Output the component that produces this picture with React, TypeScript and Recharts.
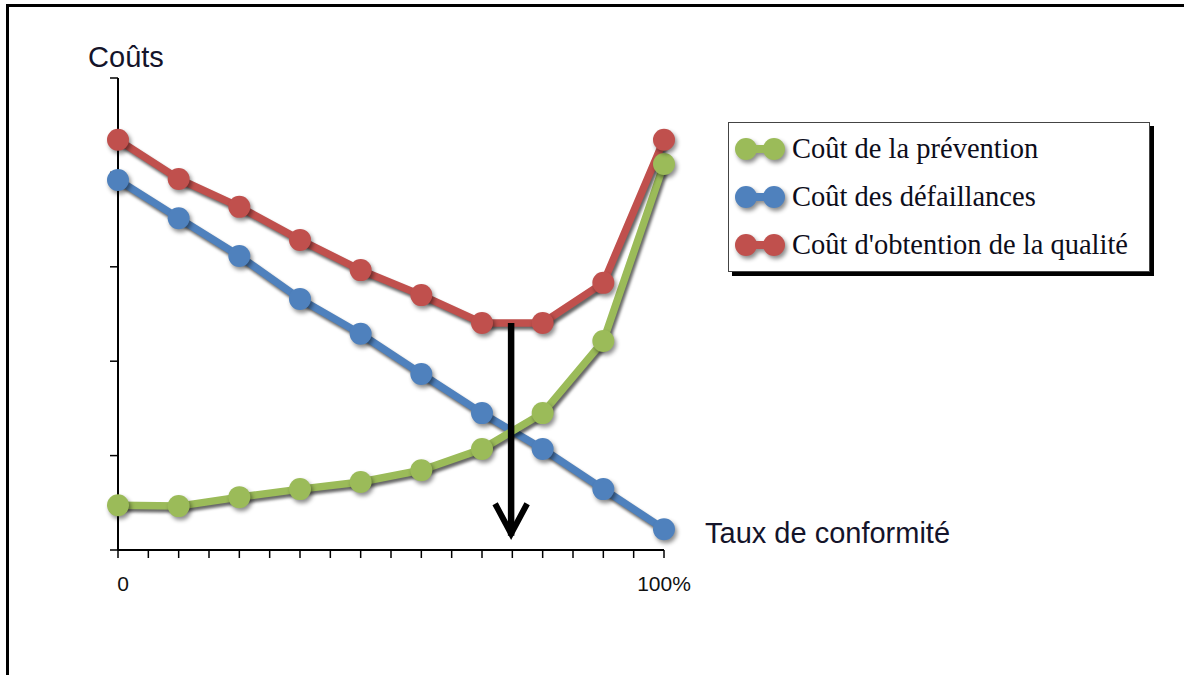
import { LineChart, Line, XAxis, YAxis, Legend, ReferenceLine, Label } from 'recharts';

// x = step along the conformity axis (0 -> 0%, 9 -> 100%)
const STEPS = [0, 1, 2, 3, 4, 5, 6, 7, 8, 9];
const PREVENTION = [9.5, 9.3, 11.2, 12.9, 14.4, 16.9, 21.4, 29.0, 44.3, 81.8];
const FAILURES = [78.4, 70.3, 62.3, 53.2, 45.8, 37.3, 29.0, 21.4, 12.9, 4.4];
const QUALITY = [86.9, 78.6, 72.7, 65.7, 59.3, 54.0, 48.1, 48.1, 56.6, 86.9];

const X_TICKS = [0, 0.5, 1, 1.5, 2, 2.5, 3, 3.5, 4, 4.5, 5, 5.5, 6, 6.5, 7, 7.5, 8, 8.5, 9];
const X_TICK_LABELS: Record<number, string> = { 0: '0', 9: '100%' };
const Y_TICKS = [0, 20, 40, 60, 80, 100];

// optimum arrow: from the flat bottom of the total cost down to the axis
const ARROW_X = 6.48;
const ARROW_TOP = 48.1;
const ARROW_TIP = 2.6;

const SERIES = [
  { key: 'prevention', name: 'Coût de la prévention', color: '#9BBB59' },
  { key: 'failures', name: 'Coût des défaillances', color: '#4F81BD' },
  { key: 'quality', name: "Coût d'obtention de la qualité", color: '#C0504D' },
];
// drawing order (back to front)
const DRAW_ORDER = ['failures', 'prevention', 'quality'];

const data = STEPS.map((s, i) => ({
  step: s,
  prevention: PREVENTION[i],
  failures: FAILURES[i],
  quality: QUALITY[i],
}));

const SANS = '"Liberation Sans", Arial, sans-serif';
const SERIF = '"Liberation Serif", "Times New Roman", serif';

function XTick(props: any) {
  const { x, y, payload } = props;
  const txt = X_TICK_LABELS[payload.value];
  if (!txt) return null;
  return (
    <text x={x + (payload.value === 0 ? 5 : 0)} y={y + 31} textAnchor="middle" fontFamily={SANS} fontSize={21} fill="#111">
      {txt}
    </text>
  );
}

function Arrow(props: any) {
  const { x1, y1, x2, y2 } = props;
  const tipY = y2 - 4;
  return (
    <g>
      <line x1={x1} y1={y1} x2={x2} y2={y2 - 2} stroke="#000" strokeWidth={6.5} />
      <polyline
        points={`${x2 - 16},${tipY - 30} ${x2},${tipY} ${x2 + 16},${tipY - 30}`}
        fill="none"
        stroke="#000"
        strokeWidth={6}
        strokeLinejoin="miter"
      />
    </g>
  );
}

function LegendBox() {
  return (
    <div
      style={{
        boxSizing: 'border-box',
        width: 422,
        height: 150,
        border: '1.5px solid #444',
        background: '#fff',
        boxShadow: '4px 4px 0 #000',
        paddingTop: 2,
      }}
    >
      {SERIES.map((s) => (
        <div key={s.key} style={{ display: 'flex', alignItems: 'center', height: 48 }}>
          <svg width={56} height={30} style={{ marginLeft: 4, overflow: 'visible', filter: 'drop-shadow(2px 3px 2px rgba(0,0,0,0.45))' }}>
            <line x1={13} y1={15} x2={41} y2={15} stroke={s.color} strokeWidth={8} />
            <circle cx={13} cy={15} r={11} fill={s.color} />
            <circle cx={41} cy={15} r={11} fill={s.color} />
          </svg>
          <span style={{ fontFamily: SERIF, fontSize: 28.5, color: '#0d0d1a', marginLeft: 3, lineHeight: '48px' }}>{s.name}</span>
        </div>
      ))}
    </div>
  );
}

export default function App() {
  return (
    <div style={{ position: 'absolute', left: 0, top: 0, width: 1184, height: 675, background: '#fff', overflow: 'hidden' }}>
      <style>{`
        .recharts-line-curve { filter: drop-shadow(2px 3px 1.5px rgba(0,0,0,0.6)); }
        .recharts-line-dots { filter: drop-shadow(2px 3px 2px rgba(0,0,0,0.45)); }
      `}</style>
      {/* frame, top and left edges only */}
      <div style={{ position: 'absolute', left: 6, top: 4, width: 1200, height: 700, borderLeft: '3px solid #000', borderTop: '3px solid #000' }} />
      <LineChart
        width={1184}
        height={675}
        data={data}
        margin={{ top: 78, right: 520, bottom: 75, left: 98 }}
        style={{ position: 'absolute', left: 0, top: 0 }}
      >
        <XAxis
          dataKey="step"
          type="number"
          domain={[0, 9]}
          ticks={X_TICKS}
          interval={0}
          height={50}
          tick={<XTick />}
          tickSize={8}
          tickLine={{ stroke: '#000', strokeWidth: 1.5 }}
          axisLine={{ stroke: '#000', strokeWidth: 2 }}
        >
          <Label
            content={({ viewBox }: any) => (
              <text x={viewBox.x + viewBox.width + 41} y={viewBox.y - 7} fontFamily={SANS} fontSize={29} fill="#14142a">
                Taux de conformité
              </text>
            )}
          />
        </XAxis>
        <YAxis
          type="number"
          domain={[0, 100]}
          ticks={Y_TICKS}
          interval={0}
          width={20}
          tick={() => <g />}
          tickSize={8}
          tickLine={{ stroke: '#000', strokeWidth: 1.5 }}
          axisLine={{ stroke: '#000', strokeWidth: 2 }}
        >
          <Label
            content={({ viewBox }: any) => (
              <text x={viewBox.x + viewBox.width + 8} y={viewBox.y - 11} textAnchor="middle" fontFamily={SANS} fontSize={29} fill="#14142a">
                Coûts
              </text>
            )}
          />
        </YAxis>
        <Legend
          layout="horizontal"
          align="center"
          verticalAlign="middle"
          wrapperStyle={{ left: 728, top: 122, width: 430, height: 156 }}
          content={() => <LegendBox />}
        />
        {DRAW_ORDER.map((k) => {
          const s = SERIES.find((x) => x.key === k)!;
          return (
            <Line
              key={s.key}
              type="linear"
              dataKey={s.key}
              name={s.name}
              stroke={s.color}
              strokeWidth={7.5}
              dot={{ r: 11, fill: s.color, stroke: s.color, strokeWidth: 0 }}
              activeDot={false}
              isAnimationActive={false}
            />
          );
        })}
        <ReferenceLine
          segment={[
            { x: ARROW_X, y: ARROW_TOP },
            { x: ARROW_X, y: ARROW_TIP },
          ]}
          shape={<Arrow />}
        />
      </LineChart>
    </div>
  );
}
